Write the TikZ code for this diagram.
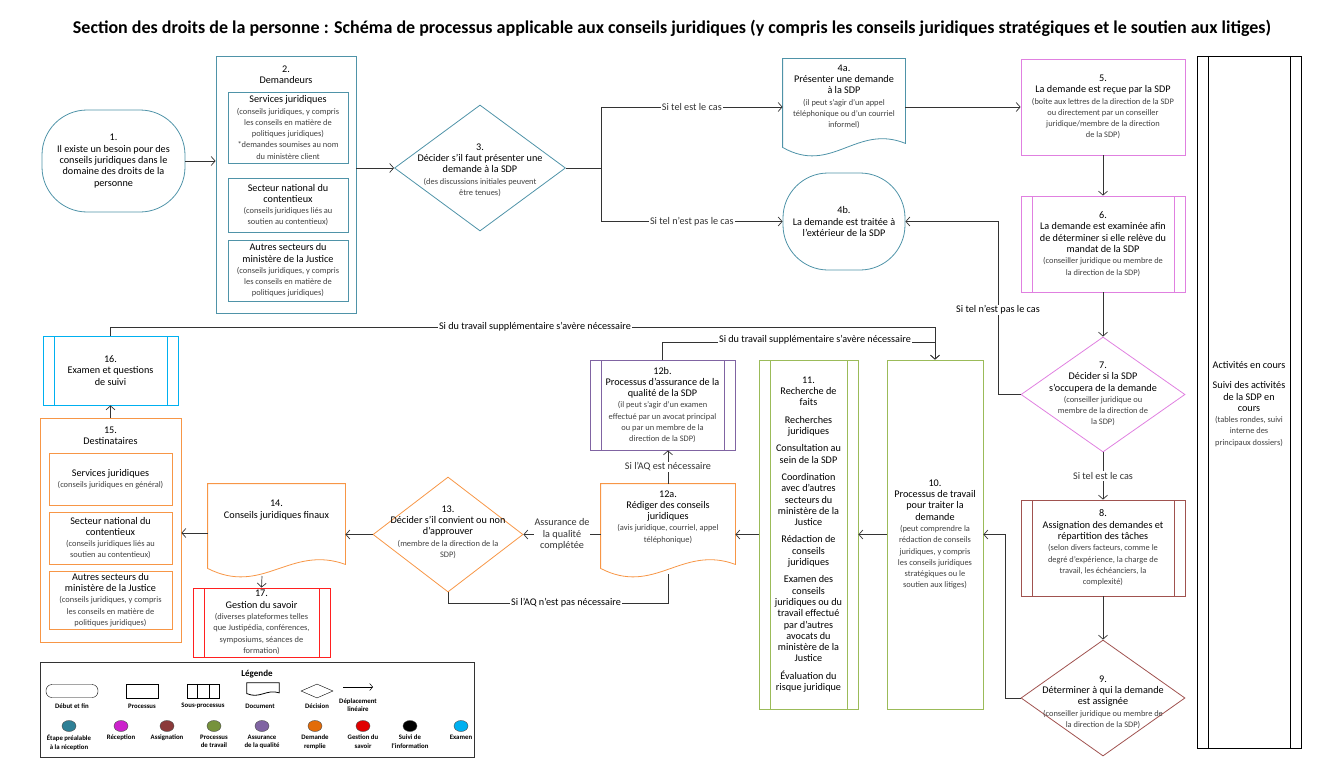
\documentclass[tikz,border=0pt]{standalone}
\usepackage{fontspec}
\setmainfont{Carlito}
\usetikzlibrary{shapes.geometric,arrows.meta,calc}
\definecolor{teal1}{HTML}{4F93A8}
\definecolor{pink1}{HTML}{E080E0}
\definecolor{brown1}{HTML}{A0524F}
\definecolor{green1}{HTML}{9BBB59}
\definecolor{purple1}{HTML}{8064A2}
\definecolor{orange1}{HTML}{F79646}
\definecolor{red1}{HTML}{FF2020}
\definecolor{cyan1}{HTML}{00B0F0}
\newcommand\sm[1]{{\fontsize{8.4}{10.2}\selectfont\color{black!75}#1}}
\newcommand\docpath[3]{\draw[#2,line width=0.8pt] let \p1=(#1.south west), \p2=(#1.north east), \n1={\x2-\x1} in
 (\x1,\y2) -- (\x2,\y2) -- (\x2,\y1+12*#3) .. controls (\x2-0.4*\n1,\y1+32*#3) and (\x1+0.4*\n1,\y1-20*#3) .. (\x1,\y1+8*#3) -- cycle;}
\tikzset{
 base/.style={align=center,font=\fontsize{10.2}{11.3}\selectfont,inner sep=1pt,line width=0.8pt},
 sub/.style={base,draw=#1,rectangle,path picture={
   \draw[#1,line width=0.8pt] ([xshift=11pt]path picture bounding box.north west) -- ([xshift=11pt]path picture bounding box.south west);
   \draw[#1,line width=0.8pt] ([xshift=-11pt]path picture bounding box.north east) -- ([xshift=-11pt]path picture bounding box.south east);}},
 dia/.style={draw=#1,diamond,inner sep=0pt,line width=0.8pt},
 arr/.style={-{Straight Barb[length=4pt,width=9pt]},line width=0.7pt,black!80},
 ln/.style={line width=0.7pt,black!80},
 lab/.style={font=\fontsize{10.2}{11.3}\selectfont,fill=white,inner sep=1pt,align=center},
}
\begin{document}
\begin{tikzpicture}[x=1pt,y=-1pt]
\useasboundingbox (0,0) rectangle (1336,784);
\node[font=\bfseries\fontsize{18}{20}\selectfont] at (672,28) {Section des droits de la personne : Schéma de processus applicable aux conseils juridiques (y compris les conseils juridiques stratégiques et le soutien aux litiges)};

% 1
\node[base,draw=teal1,rectangle,rounded corners=45pt,minimum width=143,minimum height=102] (n1) at (113.5,161) {1.\\Il existe un besoin pour des\\conseils juridiques dans le\\domaine des droits de la\\personne};
% 2
\node[base,draw=teal1,minimum width=140,minimum height=257] (n2) at (286,184.5) {};
\node[base] at (286,75) {2.\\Demandeurs};
\node[base,draw=teal1,minimum width=120,minimum height=71] (n2a) at (288,127.5) {Services juridiques\\\sm{(conseils juridiques, y compris}\\\sm{les conseils en matière de}\\\sm{politiques juridiques)}\\\sm{*demandes soumises au nom}\\\sm{du ministère client}};
\node[base,draw=teal1,minimum width=120,minimum height=54] (n2b) at (288,205) {Secteur national du\\contentieux\\\sm{(conseils juridiques liés au}\\\sm{soutien au contentieux)}};
\node[base,draw=teal1,minimum width=120,minimum height=61] (n2c) at (288,270.5) {Autres secteurs du\\ministère de la Justice\\\sm{(conseils juridiques, y compris}\\\sm{les conseils en matière de}\\\sm{politiques juridiques)}};
% 3
\node[dia=teal1,minimum width=171,minimum height=126] (n3) at (480,168) {};
\node[base] at (480,170) {3.\\Décider s’il faut présenter une\\demande à la SDP\\\sm{(des discussions initiales peuvent}\\\sm{être tenues)}};
% 4a
\node[base,minimum width=122,minimum height=96] (n4a) at (844,107) {4a.\\Présenter une demande\\à la SDP\\\sm{(il peut s’agir d’un appel}\\\sm{téléphonique ou d’un courriel}\\\sm{informel)}\\[10pt]};
\docpath{n4a}{teal1}{1}
% 4b
\node[base,draw=teal1,rectangle,rounded corners=45pt,minimum width=122,minimum height=97] (n4b) at (844,221.5) {4b.\\La demande est traitée à\\l’extérieur de la SDP};
% 5
\node[base,draw=pink1,minimum width=164,minimum height=96] (n5) at (1103,107) {5.\\La demande est reçue par la SDP\\\sm{(boîte aux lettres de la direction de la SDP}\\\sm{ou directement par un conseiller}\\\sm{juridique/membre de la direction}\\\sm{de la SDP)}};
% 6
\node[sub=pink1,minimum width=164,minimum height=96] (n6) at (1103,244) {6.\\La demande est examinée afin\\de déterminer si elle relève du\\mandat de la SDP\\\sm{(conseiller juridique ou membre de}\\\sm{la direction de la SDP)}};
% 7
\node[dia=pink1,minimum width=164,minimum height=115] (n7) at (1103,394.5) {};
\node[base] at (1103,394) {7.\\Décider si la SDP\\s’occupera de la demande\\\sm{(conseiller juridique ou}\\\sm{membre de la direction de}\\\sm{la SDP)}};
% right column
\node[sub=black,minimum width=104,minimum height=692] (n18) at (1249,402) {};
\node[base] at (1249,404) {Activités en cours\\[9pt]Suivi des activités\\de la SDP en\\cours\\\sm{(tables rondes, suivi}\\\sm{interne des}\\\sm{principaux dossiers)}};
% 8
\node[sub=brown1,minimum width=164,minimum height=96] (n8) at (1103,548) {8.\\Assignation des demandes et\\répartition des tâches\\\sm{(selon divers facteurs, comme le}\\\sm{degré d’expérience, la charge de}\\\sm{travail, les échéanciers, la}\\\sm{complexité)}};
% 9
\node[dia=brown1,minimum width=164,minimum height=116] (n9) at (1103,698) {};
\node[base] at (1103,702) {9.\\Déterminer à qui la demande\\est assignée\\\sm{(conseiller juridique ou membre de}\\\sm{la direction de la SDP)}};
% 10
\node[base,draw=green1,minimum width=96,minimum height=349] (n10) at (935,534.5) {10.\\Processus de travail\\pour traiter la\\demande\\\sm{(peut comprendre la}\\\sm{rédaction de conseils}\\\sm{juridiques, y compris}\\\sm{les conseils juridiques}\\\sm{stratégiques ou le}\\\sm{soutien aux litiges)}};
% 11
\node[sub=green1,minimum width=99,minimum height=349] (n11) at (808.5,534.5) {11.\\Recherche de\\faits\\[6pt]Recherches\\juridiques\\[6pt]Consultation au\\sein de la SDP\\[6pt]Coordination\\avec d’autres\\secteurs du\\ministère de la\\Justice\\[6pt]Rédaction de\\conseils\\juridiques\\[6pt]Examen des\\conseils\\juridiques ou du\\travail effectué\\par d’autres\\avocats du\\ministère de la\\Justice\\[6pt]Évaluation du\\risque juridique};
% 12a
\node[base,minimum width=134,minimum height=92] (n12a) at (668,530) {12a.\\Rédiger des conseils\\juridiques\\\sm{(avis juridique, courriel, appel}\\\sm{téléphonique)}\\[16pt]};
\docpath{n12a}{orange1}{1}
% 12b
\node[sub=purple1,minimum width=145,minimum height=90] (n12b) at (662.5,405) {12b.\\Processus d’assurance de la\\qualité de la SDP\\\sm{(il peut s’agir d’un examen}\\\sm{effectué par un avocat principal}\\\sm{ou par un membre de la}\\\sm{direction de la SDP)}};
% 13
\node[dia=orange1,minimum width=150,minimum height=115] (n13) at (448,534.5) {};
\node[base] at (448,532) {13.\\Décider s’il convient ou non\\d’approuver\\\sm{(membre de la direction de la}\\\sm{SDP)}};
% 14
\node[base,minimum width=137,minimum height=92] (n14) at (276.5,530) {14.\\Conseils juridiques finaux\\[30pt]};
\docpath{n14}{orange1}{1}
% 15
\node[base,draw=orange1,minimum width=141,minimum height=224] (n15) at (110.5,530) {};
\node[base] at (110.5,436) {15.\\Destinataires};
\node[base,draw=orange1,minimum width=123,minimum height=52] (n15a) at (110.5,479) {Services juridiques\\\sm{(conseils juridiques en général)}};
\node[base,draw=orange1,minimum width=123,minimum height=52] (n15b) at (110.5,538) {Secteur national du\\contentieux\\\sm{(conseils juridiques liés au}\\\sm{soutien au contentieux)}};
\node[base,draw=orange1,minimum width=123,minimum height=58] (n15c) at (110.5,600) {Autres secteurs du\\ministère de la Justice\\\sm{(conseils juridiques, y compris}\\\sm{les conseils en matière de}\\\sm{politiques juridiques)}};
% 16
\node[sub=cyan1,minimum width=135,minimum height=69] (n16) at (110.5,370.5) {16.\\Examen et questions\\de suivi};
% 17
\node[sub=red1,minimum width=137,minimum height=69] (n17) at (261.5,622.5) {17.\\Gestion du savoir\\\sm{(diverses plateformes telles}\\\sm{que Justipédia, conférences,}\\\sm{symposiums, séances de}\\\sm{formation)}};

% connectors
\coordinate (b3) at (601,168);
\coordinate (b7) at (998,394.5);
\coordinate (b9) at (1005,698);
\coordinate (t12) at (662.5,342);
\coordinate (t16) at (110.5,327);
\coordinate (d12) at (668,603);
\coordinate (s12) at (668,574);
\coordinate (s14) at (262,576);
\draw[arr] (n1.east) -- (n1.east -| n2.west);
\draw[arr] (n3.west -| n2.east) -- (n3.west);
\draw[ln] (n3.east) -- (b3);
\draw[arr] (b3) |- (n4a.west) node[lab,pos=0.75] {Si tel est le cas};
\draw[arr] (b3) |- (n4b.west) node[lab,pos=0.75] {Si tel n’est pas le cas};
\draw[arr] (n4a.east) -- (n5.west);
\draw[arr] (n5.south) -- (n6.north);
\draw[arr] (n6.south) -- (n7.north);
\draw[arr] (n7.west) -- (b7) |- (n4b.east);
\node[lab] at (998,310) {Si tel n’est pas le cas};
\draw[arr] (n7.south) -- (n8.north) node[lab,midway] {Si tel est le cas};
\draw[arr] (n8.south) -- (n9.north);
\draw[arr] (n9.west) -- (b9) |- (n10.east);
\draw[arr] (n10.west) -- (n10.west -| n11.east);
\draw[arr] (n11.west) -- (n11.west -| n12a.east);
\draw[arr] (n12a.north) -- (n12a.north |- n12b.south) node[lab,midway] {Si l’AQ est nécessaire};
\draw[arr] (n12b.north) -- (t12) -| (n10.north);
\node[lab] at (815,340) {Si du travail supplémentaire s’avère nécessaire};
\draw[arr] (n16.north) -- (t16) -| (n10.north);
\node[lab] at (535,327) {Si du travail supplémentaire s’avère nécessaire};
\draw[arr] (n12a.west |- n13.east) -- (n13.east) node[lab,midway] {Assurance de\\la qualité\\complétée};
\draw[ln] (s12) -- (d12) -| (n13.south);
\node[lab] at (566,603) {Si l’AQ n’est pas nécessaire};
\draw[arr] (n13.west) -- (n13.west -| n14.east);
\draw[arr] (n14.west |- 0,533) -- (n15.east |- 0,533);
\draw[arr] (s14) -- (n17.north);
\draw[arr] (n15.north) -- (n16.south);

% legend
\node[draw=black!80,line width=0.8pt,minimum width=434,minimum height=95] (lg) at (257,709.5) {};
\node[font=\bfseries\fontsize{9}{10}\selectfont] (lgt) at (257,674) {Légende};
\tikzset{ll/.style={font=\bfseries\fontsize{6.8}{8.2}\selectfont,align=center,inner sep=0pt}}
\node[draw=black,rounded corners=6pt,minimum width=52,minimum height=13,inner sep=0] (lg1) at (72,691) {};
\node[draw=black,minimum width=32,minimum height=14,inner sep=0] (lg2) at (142,691) {};
\node[draw=black,minimum width=32,minimum height=14,inner sep=0] (lg3) at (203,691) {};
\draw (lg3.north west) ++(10,0) -- ++(0,14) (lg3.north east) ++(-10,0) -- ++(0,14);
\node[minimum width=32,minimum height=12,inner sep=0] (lg4) at (263,689) {};
\docpath{lg4}{black}{0.2}
\node[draw=black,diamond,aspect=2.2,minimum width=32,minimum height=14,inner sep=0] (lg5) at (317,691) {};
\coordinate (lg6a) at (343,687); \coordinate (lg6b) at (373,687);
\draw[-{Straight Barb[length=3pt,width=7pt]},line width=0.5pt] (lg6a) -- (lg6b);
\node[ll] at (72,706) {Début et fin};
\node[ll] at (142,706) {Processus};
\node[ll] at (203,706) {Sous-processus};
\node[ll] at (260,706) {Document};
\node[ll] at (317,706) {Décision};
\node[ll] at (358,705) {Déplacement\\linéaire};
\foreach \xx/\cc/\tt in {69/2E8096/Étape préalable\\à la réception, 121/CC22CC/Réception, 167/8B3A3A/Assignation, 214/76923C/Processus\\de travail, 262/8064A2/Assurance\\de la qualité, 315/E36C09/Demande\\remplie, 363/E00000/Gestion du\\savoir, 410/000000/Suivi de\\l’information, 461/00B0F0/Examen}{
 \definecolor{tmpc}{HTML}{\cc}
 \node[ellipse,draw=black!70,fill=tmpc,minimum width=14,minimum height=11,inner sep=0] at (\xx,726) {};
 \node[ll,anchor=north] at (\xx,735) {\tt};
}
\end{tikzpicture}
\end{document}
